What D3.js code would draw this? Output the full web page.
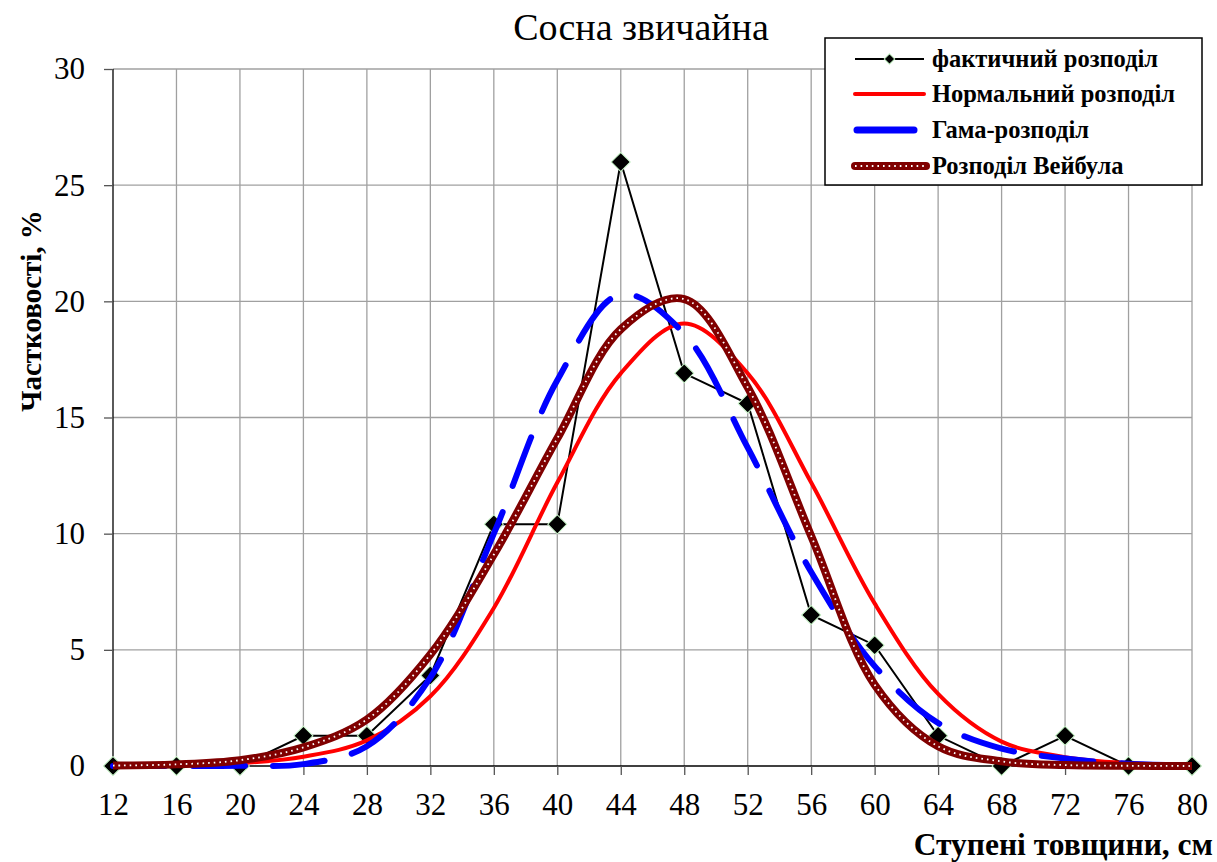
<!DOCTYPE html>
<html lang="uk">
<head>
<meta charset="UTF-8">
<title>Сосна звичайна</title>
<script src="https://d3js.org/d3.v7.min.js"></script>
<style>
  body { margin: 0; background: #fff; }
  svg { display: block; font-family: "Liberation Serif", "Times New Roman", serif; }
  .grid line { stroke: #a0a0a0; stroke-width: 1.3; }
  .tick text { font-size: 31px; fill: #000; }
  .legend text { font-size: 24.5px; font-weight: bold; }
</style>
</head>
<body>
<svg width="1217" height="862"></svg>
<script>
// ступені товщини, см
const categories = [12, 16, 20, 24, 28, 32, 36, 40, 44, 48, 52, 56, 60, 64, 68, 72, 76, 80];
// частковості, %
const actual  = [0, 0, 0, 1.3, 1.3, 3.9, 10.4, 10.4, 26, 16.9, 15.6, 6.5, 5.2, 1.3, 0, 1.3, 0, 0];
const normal  = [0.01, 0.03, 0.12, 0.4, 1.1, 3.0, 6.8, 12.2, 16.9, 19.05, 16.9, 12.2, 7.0, 3.1, 1.05, 0.38, 0.12, 0.03];
const gamma   = [0, 0, 0.01, 0.08, 0.85, 3.8, 10.0, 16.6, 20.3, 18.6, 13.7, 8.35, 4.3, 1.85, 0.75, 0.32, 0.1, 0.03];
const weibull = [0.02, 0.07, 0.25, 0.8, 2.0, 4.8, 9.1, 14.1, 18.8, 20.1, 16.3, 9.9, 3.5, 0.85, 0.2, 0.04, 0.01, 0];
const yTicks = [0, 5, 10, 15, 20, 25, 30];

const seriesNames = ["фактичний розподіл", "Нормальний розподіл", "Гама-розподіл", "Розподіл Вейбула"];

const svg = d3.select("svg");
const plotL = 113, plotR = 1192, plotT = 69, plotB = 766;

const x = d3.scaleLinear().domain([12, 80]).range([plotL, plotR]);
const y = d3.scaleLinear().domain([0, 30]).range([plotB, plotT]);

// grid
const grid = svg.append("g").attr("class", "grid");
grid.selectAll(".v").data(categories.slice(1)).enter().append("line")
    .attr("x1", d => x(d)).attr("x2", d => x(d)).attr("y1", plotT).attr("y2", plotB);
grid.selectAll(".h").data(yTicks.slice(1)).enter().append("line")
    .attr("x1", plotL).attr("x2", plotR).attr("y1", d => y(d)).attr("y2", d => y(d));

// axes
const xAxis = svg.append("g")
    .attr("transform", `translate(0,${plotB})`)
    .call(d3.axisBottom(x).tickValues(categories).tickSize(9).tickPadding(18).tickFormat(d3.format("d")));
const yAxis = svg.append("g")
    .attr("transform", `translate(${plotL},0)`)
    .call(d3.axisLeft(y).tickValues(yTicks).tickSize(9).tickPadding(19));
[xAxis, yAxis].forEach(a => {
    a.attr("font-family", null).attr("font-size", null);
    a.select(".domain").attr("stroke", "#000").attr("stroke-width", 1.3);
    a.selectAll(".tick line").attr("stroke", "#555").attr("stroke-width", 1.3);
});
xAxis.select(".domain").attr("d", `M${plotL},0H${plotR}`);
yAxis.select(".domain").attr("d", `M0,${plotT}V${plotB}`);

const pts = arr => categories.map((c, i) => [c, arr[i]]);
const straight = d3.line().x(d => x(d[0])).y(d => y(d[1]));
const smooth = d3.line().x(d => x(d[0])).y(d => y(d[1])).curve(d3.curveCatmullRom);

const diamond = d3.symbol().type(d3.symbolSquare);

// фактичний
svg.append("path").attr("d", straight(pts(actual)))
    .attr("fill", "none").attr("stroke", "#000").attr("stroke-width", 2);
svg.selectAll(".mk").data(pts(actual)).enter().append("path")
    .attr("d", diamond.size(180)())
    .attr("transform", d => `translate(${x(d[0])},${y(d[1])}) rotate(45)`)
    .attr("fill", "#000").attr("stroke", "#c8f5c8").attr("stroke-width", 1);

// нормальний
svg.append("path").attr("d", smooth(pts(normal)))
    .attr("fill", "none").attr("stroke", "#ff0000").attr("stroke-width", 4);

// гама
svg.append("path").attr("d", smooth(pts(gamma)))
    .attr("fill", "none").attr("stroke", "#0000ff").attr("stroke-width", 6)
    .attr("stroke-linecap", "round").attr("stroke-dasharray", "52 28");

// Вейбул
svg.append("path").attr("d", smooth(pts(weibull)))
    .attr("fill", "none").attr("stroke", "#800000").attr("stroke-width", 8);
svg.append("path").attr("d", smooth(pts(weibull)))
    .attr("fill", "none").attr("stroke", "#fff").attr("stroke-width", 1.8)
    .attr("stroke-dasharray", "1.6 4");

// title
svg.append("text").attr("x", 641).attr("y", 40).attr("text-anchor", "middle")
    .attr("font-size", 38).text("Сосна звичайна");

// axis titles
svg.append("text").attr("transform", "translate(41,311) rotate(-90)")
    .attr("text-anchor", "middle").attr("font-size", 29).attr("font-weight", "bold")
    .text("Частковості, %");
svg.append("text").attr("x", 1213).attr("y", 855).attr("text-anchor", "end")
    .attr("font-size", 31.5).attr("font-weight", "bold")
    .text("Ступені товщини, см");

// legend
const lg = svg.append("g").attr("class", "legend");
lg.append("rect").attr("x", 825).attr("y", 38).attr("width", 377).attr("height", 147)
    .attr("fill", "#fff").attr("stroke", "#000").attr("stroke-width", 1.5);
const rowY = [59, 94, 130, 166];
const lx1 = 855, lx2 = 924;
lg.append("line").attr("x1", lx1).attr("x2", lx2).attr("y1", rowY[0]).attr("y2", rowY[0])
    .attr("stroke", "#000").attr("stroke-width", 2);
lg.append("path").attr("d", d3.symbol().type(d3.symbolSquare).size(55)())
    .attr("transform", `translate(${(lx1 + lx2) / 2},${rowY[0]}) rotate(45)`)
    .attr("fill", "#000").attr("stroke", "#c8f5c8").attr("stroke-width", 1);
lg.append("line").attr("x1", lx1).attr("x2", lx2).attr("y1", rowY[1]).attr("y2", rowY[1])
    .attr("stroke", "#ff0000").attr("stroke-width", 4).attr("stroke-linecap", "round");
lg.append("line").attr("x1", lx1 + 2).attr("x2", lx2 - 10).attr("y1", rowY[2]).attr("y2", rowY[2])
    .attr("stroke", "#0000ff").attr("stroke-width", 7).attr("stroke-linecap", "round");
lg.append("line").attr("x1", lx1).attr("x2", lx2 + 2).attr("y1", rowY[3]).attr("y2", rowY[3])
    .attr("stroke", "#800000").attr("stroke-width", 8).attr("stroke-linecap", "round");
lg.append("line").attr("x1", lx1).attr("x2", lx2 + 2).attr("y1", rowY[3]).attr("y2", rowY[3])
    .attr("stroke", "#fff").attr("stroke-width", 1.8).attr("stroke-dasharray", "1.6 4");
lg.selectAll("text").data(seriesNames).enter().append("text")
    .attr("x", 932).attr("y", (d, i) => rowY[i] + 8).text(d => d);
</script>
</body>
</html>
